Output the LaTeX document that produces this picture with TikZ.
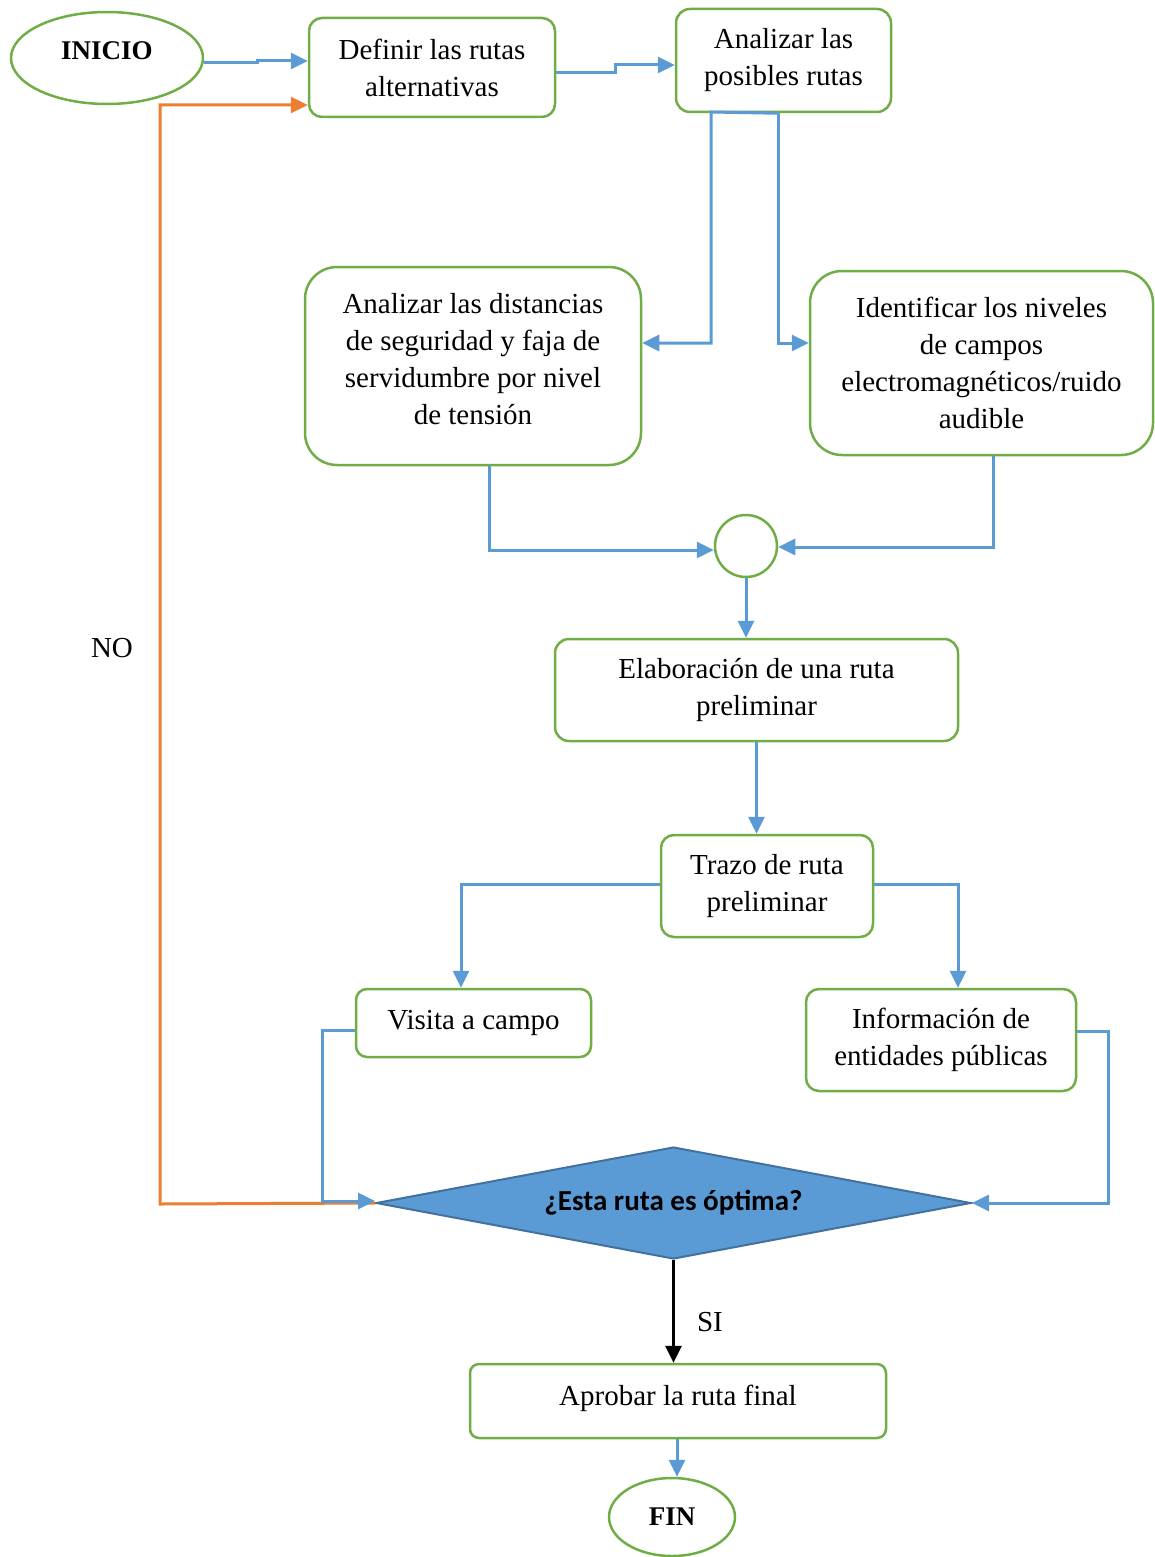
\documentclass[tikz,border=0pt]{standalone}
\usepackage{fontspec}
\setmainfont{Liberation Serif}
\newfontfamily\calibri{Carlito}
\usetikzlibrary{arrows.meta,shapes.geometric}
\definecolor{grn}{HTML}{70AD47}
\definecolor{blu}{HTML}{5B9BD5}
\definecolor{org}{HTML}{ED7D31}
\definecolor{dblu}{HTML}{41719C}
\begin{document}
\begin{tikzpicture}[x=1pt,y=-1pt,
  box/.style={draw=grn, line width=2.5pt, align=center, inner sep=0pt, fill=white,
    font=\fontsize{29}{37}\selectfont},
  term/.style={ellipse, draw=grn, line width=2.5pt, inner sep=0pt,
    font=\fontsize{27}{30}\selectfont\bfseries},
  conn/.style={draw=blu, line width=3pt, -{Triangle[length=17pt,width=16pt]}},
  oconn/.style={draw=org, line width=3pt, -{Triangle[length=17pt,width=16pt]}},
  kconn/.style={draw=black, line width=3pt, -{Triangle[length=17pt,width=16pt]}},
  lbl/.style={font=\fontsize{29}{34}\selectfont, inner sep=0pt}]
\useasboundingbox (0,0) rectangle (1154,1557);

% nodes
\node[term, minimum width=192pt, minimum height=92pt, text depth=14pt] (inicio) at (107,58) {INICIO};
\node[box, rounded corners=13pt, minimum width=246pt, minimum height=99pt] (def) at (432,67.5) {Definir las rutas\\alternativas};
\node[box, rounded corners=14pt, minimum width=215pt, minimum height=103pt] (ana) at (783.5,60.5) {Analizar las\\posibles rutas};
\node[box, rounded corners=32pt, minimum width=336pt, minimum height=198pt, text depth=15pt] (dist) at (473,366) {Analizar las distancias\\de seguridad y faja de\\servidumbre por nivel\\de tensión};
\node[box, rounded corners=32pt, minimum width=343pt, minimum height=184pt] (idn) at (981.5,363) {Identificar los niveles\\de campos\\electromagnéticos/ruido\\audible};
\node[circle, draw=grn, line width=2.5pt, minimum size=62pt, inner sep=0pt] (circ) at (746,546) {};
\node[box, rounded corners=14pt, minimum width=403pt, minimum height=102pt] (elab) at (756.5,690) {Elaboración de una ruta\\preliminar};
\node[box, rounded corners=13pt, minimum width=212pt, minimum height=102pt] (trazo) at (767,886) {Trazo de ruta\\preliminar};
\node[box, rounded corners=11pt, minimum width=235pt, minimum height=68pt] (visita) at (473.5,1023) {Visita a campo};
\node[box, rounded corners=13pt, minimum width=270pt, minimum height=102pt] (info) at (941,1040) {Información de\\entidades públicas};
\node[diamond, draw=dblu, fill=blu, line width=2pt, inner sep=0pt, aspect=5.3,
  minimum width=595pt, minimum height=112pt,
  font=\fontsize{29}{32}\selectfont\calibri\bfseries] (dia) at (673.5,1203) {¿Esta ruta es óptima?};
\node[box, rounded corners=9pt, minimum width=416pt, minimum height=74pt, text depth=11pt] (apr) at (678,1401) {Aprobar la ruta final};
\node[term, minimum width=126pt, minimum height=78pt] (fin) at (672,1517) {FIN};
\node[lbl] (no) at (112,648) {NO};
\node[lbl] (si) at (710,1322) {SI};

% connectors
\draw[conn] ([yshift=-5pt]inicio.east) -- (257,63) -- (257,61) -- ([yshift=6.5pt]def.west);
\draw[conn] ([yshift=-5.5pt]def.east) -- (615,73) -- (615,65) -- ([yshift=-4.5pt]ana.west);
\draw[oconn] (dia.west) -- (160,1204) -- (160,105) -- ([yshift=-37.5pt]def.west);
\draw[conn] ([xshift=-5.5pt]ana.south) -- (711,112) -- (711,343) -- ([yshift=23pt]dist.east);
\draw[conn] ([xshift=-5.5pt]ana.south) -- (778,343) -- ([yshift=20pt]idn.west);
\draw[conn] ([xshift=16pt]dist.south) -- (489,550) -- ([yshift=-4pt]circ.west);
\draw[conn] ([xshift=11.5pt]idn.south) -- (993,547) -- ([yshift=-1pt]circ.east);
\draw[conn] (circ.south) -- (circ.south |- elab.north);
\draw[conn] (elab.south) -- (elab.south |- trazo.north);
\draw[conn] ([yshift=2pt]trazo.west) -| ([xshift=-12.5pt]visita.north);
\draw[conn] ([yshift=2pt]trazo.east) -| ([xshift=17pt]info.north);
\draw[conn] ([yshift=-7pt]visita.west) -- (322,1030) -- (322,1201) -- ([yshift=2pt]dia.west);
\draw[conn] ([yshift=9pt]info.east) -- (1108,1031) -- (1108,1203) -- (dia.east);
\draw[kconn] (dia.south) -- (dia.south |- apr.north);
\draw[conn] ([xshift=-1pt]apr.south) -- ([xshift=-1pt]apr.south |- fin.north);
\end{tikzpicture}
\end{document}
